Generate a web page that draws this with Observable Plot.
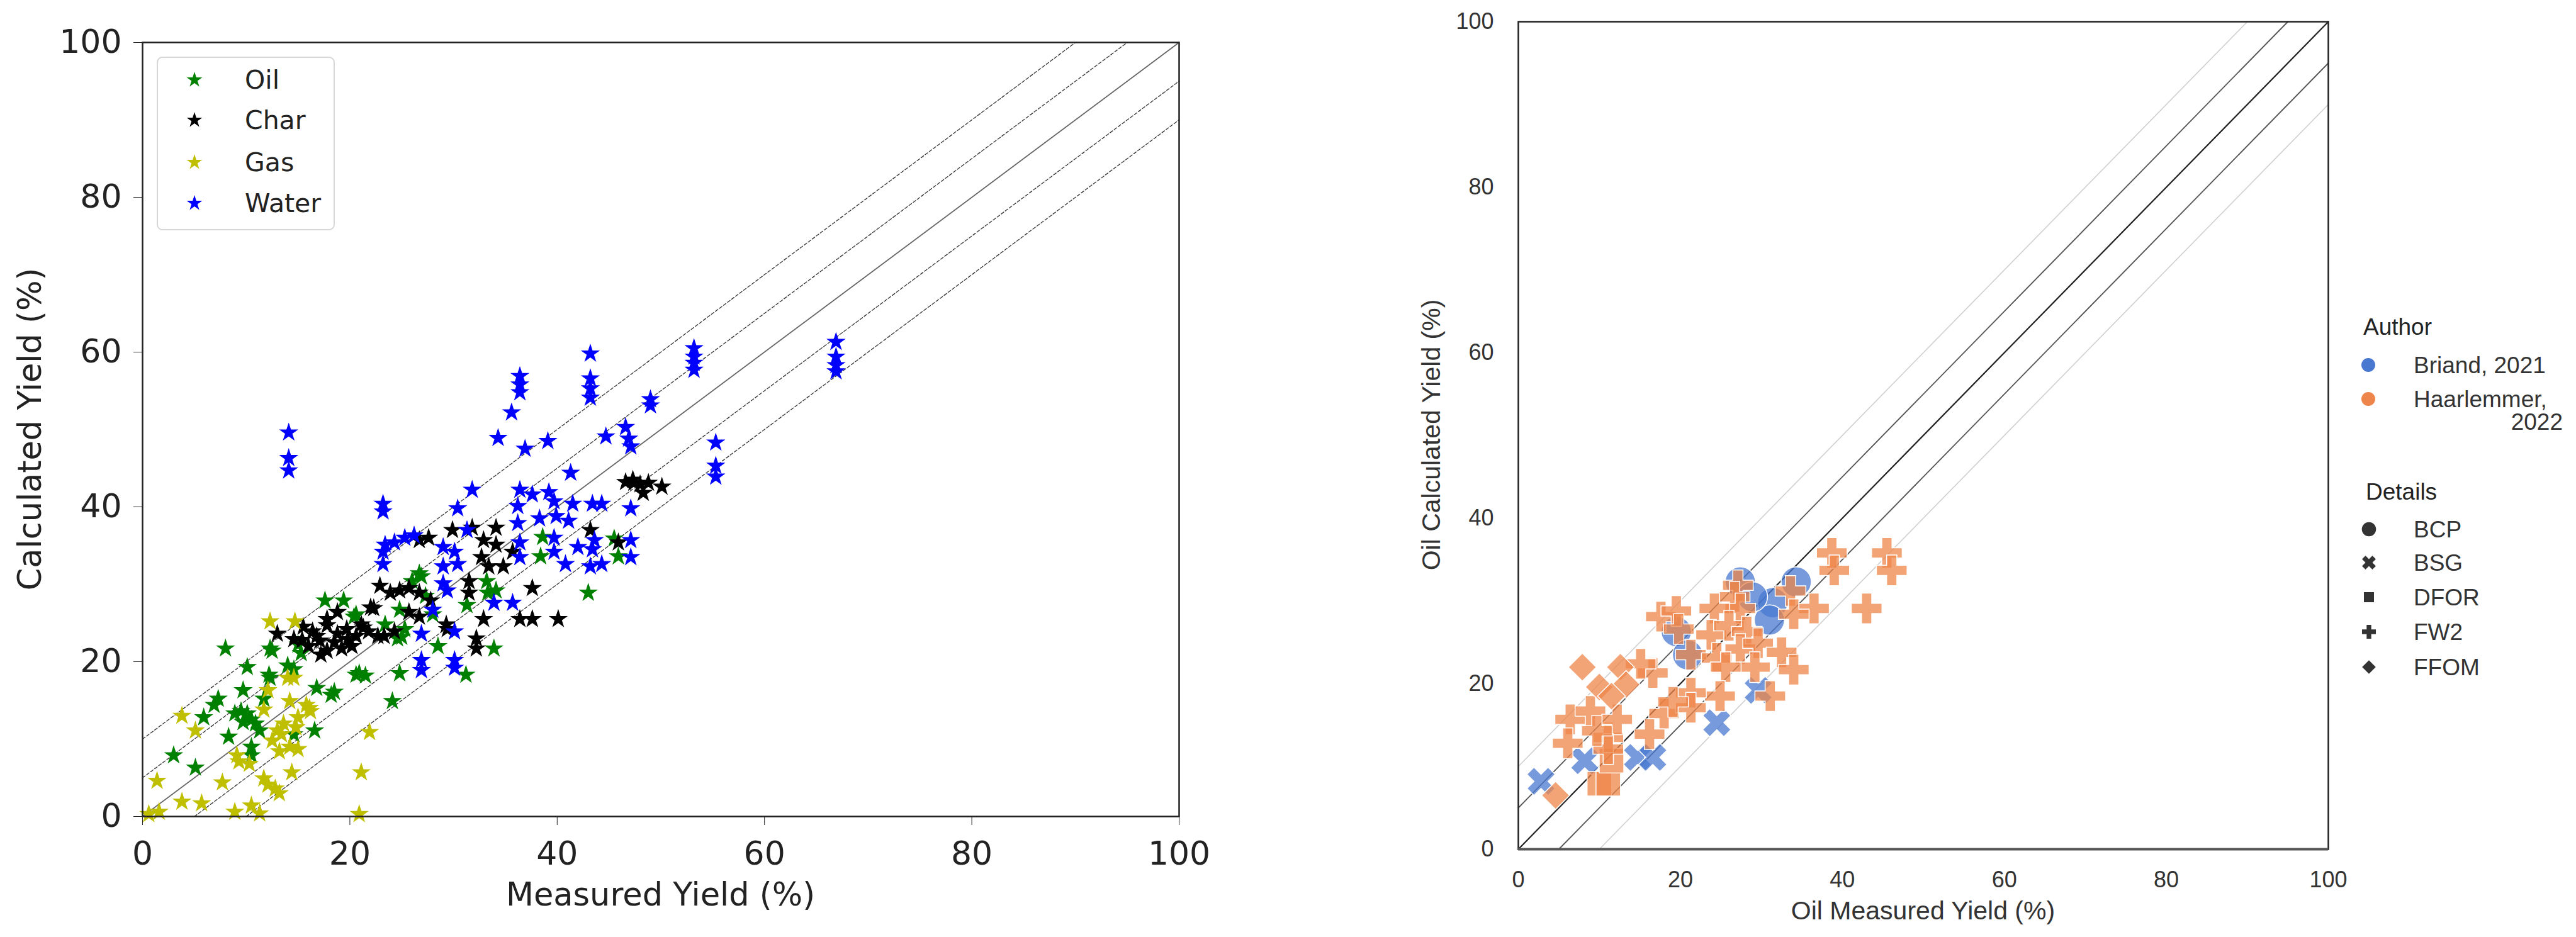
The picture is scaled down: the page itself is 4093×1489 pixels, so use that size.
<!DOCTYPE html>
<html><head><meta charset="utf-8">
<script src="https://cdn.jsdelivr.net/npm/d3@7"></script>
<script src="https://cdn.jsdelivr.net/npm/@observablehq/plot@0.6"></script>
<style>
body{margin:0;background:#fff;}
#page{position:relative;width:4093px;height:1489px;overflow:hidden;background:#fff;}
.abs{position:absolute;white-space:nowrap;line-height:1;}
</style></head><body><div id="page"></div>
<script>
// ---------- data ----------
const axisTicks = [0, 20, 40, 60, 80, 100];
const leftOffsets = [-10, -5, 0, 5, 10];
const rightOffsets = [-10, -5, 0, 5, 10];

const leftSeries = ["Oil", "Char", "Gas", "Water"];
const leftColors = ["#008000", "#000000", "#bfbf00", "#0000ff"];

const oil = [[17.6,27.9],[19.4,27.9],[20.4,25.8],[8.0,21.7],[12.3,21.7],[15.0,22.2],[10.1,19.3],[14.0,19.5],[14.6,19.0],[12.3,17.9],[20.9,18.5],[21.5,18.2],[16.8,16.6],[18.2,15.7],[9.7,16.3],[7.3,15.2],[6.9,14.4],[5.9,12.8],[9.5,13.6],[10.1,13.3],[10.5,12.5],[9.7,12.2],[10.9,12.0],[11.7,15.2],[11.3,11.1],[8.3,10.3],[10.5,9.0],[10.5,7.9],[14.6,10.6],[16.6,11.1],[3.0,7.9],[5.1,6.3],[24.1,14.9],[8.9,13.3],[24.8,18.5],[25.0,23.2],[33.9,21.7],[31.2,18.3],[33.3,28.9],[27.3,28.5],[26.7,31.4],[38.6,36.1],[38.4,33.6],[43.0,28.9],[45.9,33.6],[45.5,35.9],[26.9,31.0],[26.0,30.4],[33.2,30.4],[34.1,29.2],[20.6,26.1],[24.8,26.7],[28.0,26.1],[31.3,27.3],[23.4,24.8],[25.3,24.2],[24.6,23.0],[28.5,22.0],[12.5,21.4],[15.3,21.1],[12.2,18.3],[20.6,18.3],[18.5,16.1]];

const charData = [[46.6,43.2],[47.3,43.5],[48.0,42.9],[31.8,37.3],[29.9,37.0],[34.1,37.3],[32.9,35.7],[34.1,35.1],[27.6,36.0],[26.7,35.7],[32.7,33.5],[33.4,32.3],[34.8,32.3],[43.2,37.0],[45.9,35.4],[35.7,34.2],[22.9,29.8],[23.9,28.9],[24.8,29.2],[25.7,29.5],[26.7,28.9],[27.8,27.9],[31.5,30.4],[31.5,28.9],[37.6,29.5],[32.9,25.5],[36.4,25.5],[37.6,25.5],[40.1,25.5],[32.2,23.0],[32.2,21.7],[29.4,24.2],[25.7,26.4],[26.7,25.8],[22.0,27.0],[21.1,24.8],[18.8,26.4],[17.8,25.5],[16.4,23.9],[17.1,22.7],[18.8,23.6],[19.7,24.2],[20.6,23.3],[21.8,23.9],[22.7,23.3],[15.5,24.5],[16.0,22.0],[17.8,21.4],[19.2,21.7],[13.0,23.6],[14.6,22.9],[24.3,23.9],[47.4,43.1],[48.8,43.1],[50.1,42.6],[48.3,41.8],[22.3,26.9],[17.8,24.7],[23.3,23.3],[20.2,22.0],[17.2,20.9],[15.4,22.8],[21.3,24.4],[18.5,22.5],[19.8,22.9],[16.8,23.3],[29.3,24.8]];

const gas = [[12.3,25.2],[14.7,25.2],[14.0,17.9],[14.6,17.9],[12.1,16.3],[14.2,14.9],[15.8,14.4],[16.2,13.6],[15.0,12.8],[11.7,13.8],[3.8,13.0],[5.1,11.1],[13.0,11.1],[13.4,10.6],[14.2,9.0],[13.2,8.4],[15.0,8.7],[9.1,7.9],[9.3,7.1],[10.3,6.8],[21.9,10.9],[21.1,5.7],[1.4,4.6],[7.7,4.4],[11.7,4.9],[12.1,4.1],[12.8,3.6],[13.2,3.0],[14.4,5.7],[3.8,1.9],[5.7,1.7],[10.5,1.4],[8.9,0.6],[0.6,0.3],[1.6,0.6],[20.9,0.3],[11.3,0.4],[16.1,14.0],[13.6,12.0],[14.8,11.5],[12.5,9.8]];

const water = [[43.2,59.8],[36.4,56.9],[36.4,55.8],[36.4,54.8],[43.2,56.6],[43.2,55.3],[43.2,54.1],[35.6,52.2],[34.3,48.9],[36.9,47.5],[39.1,48.5],[44.7,49.1],[46.6,50.3],[46.9,48.8],[47.1,47.8],[14.1,49.6],[14.1,46.3],[14.1,44.7],[41.3,44.4],[31.8,42.2],[23.2,40.4],[23.2,39.4],[36.4,42.2],[37.6,41.6],[39.2,41.9],[36.2,40.1],[39.7,40.7],[41.5,40.4],[43.4,40.4],[44.3,40.4],[47.1,39.8],[30.4,39.8],[39.9,38.8],[41.1,38.2],[38.3,38.5],[36.2,37.9],[31.3,37.0],[23.4,35.1],[24.3,35.4],[25.3,36.0],[26.2,36.3],[23.2,34.2],[29.0,34.8],[30.1,34.2],[36.4,35.4],[36.4,33.5],[39.7,36.0],[39.7,34.2],[42.0,34.8],[43.6,35.7],[43.4,34.5],[47.1,35.7],[47.1,33.5],[40.8,32.6],[43.2,32.3],[44.3,32.6],[23.2,32.6],[29.0,32.3],[30.4,32.6],[29.0,30.1],[29.4,29.2],[33.9,27.6],[35.7,27.6],[26.9,23.6],[28.0,26.7],[26.9,20.2],[26.9,18.9],[30.1,20.2],[30.1,19.2],[30.1,23.9],[53.2,60.5],[53.2,59.4],[53.2,58.6],[53.2,57.7],[49.0,53.9],[49.0,53.1],[66.9,61.3],[66.9,59.4],[66.9,58.3],[66.9,57.5],[55.3,48.3],[55.3,45.3],[55.3,43.9]];

const authors = ["Briand, 2021", "Haarlemmer, 2022"];
const authorColors = ["#4878d0", "#ee854a"];
const details = ["BCP", "BSG", "DFOR", "FW2", "FFOM"];

const briandBCP = [[34.3,32.3],[31.4,29.8],[31.0,27.7],[27.4,32.3],[19.5,26.3],[20.9,23.5],[28.9,30.5]];
const briandBSG = [[2.8,8.2],[8.2,10.7],[14.7,11.1],[16.6,11.1],[24.5,15.3],[29.6,19.2]];
const haarDFOR = [[10.0,7.9],[11.1,7.9],[11.5,10.7]];
const haarFW2 = [[38.7,35.8],[45.5,35.8],[39.0,33.7],[46.1,33.7],[43.0,29.1],[36.5,29.1],[33.6,31.2],[34.0,28.4],[27.1,31.9],[26.7,30.5],[27.4,29.1],[24.2,29.1],[17.6,28.1],[19.5,28.8],[19.8,26.6],[23.8,25.9],[26.0,27.0],[28.2,26.3],[21.3,23.5],[24.5,23.1],[27.4,24.2],[29.6,24.9],[32.5,23.8],[29.2,22.0],[34.0,21.7],[25.6,22.0],[31.1,18.5],[24.9,18.5],[21.3,18.9],[16.6,21.3],[15.1,22.4],[18.0,16.4],[16.2,13.9],[11.1,13.5],[6.4,15.7],[6.1,12.8],[8.9,16.7],[12.2,15.7],[11.1,12.1],[9.7,14.3],[21.3,17.1],[19.1,17.8]];
const haarFFOM = [[7.9,22.0],[10.0,19.6],[12.6,22.0],[13.3,19.9],[11.5,18.5],[4.6,6.5]];

// ---------- helpers ----------
const page = document.getElementById("page");
function diag(offsets) {
  return offsets.flatMap(o => [
    {o, x: Math.max(0, -o), y: Math.max(0, o)},
    {o, x: Math.min(100, 100 - o), y: Math.min(100, 100 + o)}
  ]);
}
const symbolX = {
  draw(ctx, size) {
    const r = Math.sqrt(size / 5) / 2;
    const pts = [[-3*r,-r],[-r,-r],[-r,-3*r],[r,-3*r],[r,-r],[3*r,-r],[3*r,r],[r,r],[r,3*r],[-r,3*r],[-r,r],[-3*r,r]];
    const c = Math.SQRT1_2;
    pts.forEach(([x, y], i) => {
      const X = (x - y) * c, Y = (x + y) * c;
      i ? ctx.lineTo(X, Y) : ctx.moveTo(X, Y);
    });
    ctx.closePath();
  }
};
function addText(txt, left, top, style) {
  const d = document.createElement("div");
  d.className = "abs";
  d.textContent = txt;
  d.style.left = left + "px";
  d.style.top = top + "px";
  Object.assign(d.style, style);
  page.appendChild(d);
  return d;
}
function addSymbol(sym, size, cx, cy, fill, box) {
  const path = d3.symbol(sym, size)();
  const s = document.createElementNS("http://www.w3.org/2000/svg", "svg");
  s.setAttribute("width", box); s.setAttribute("height", box);
  s.setAttribute("viewBox", `${-box/2} ${-box/2} ${box} ${box}`);
  s.style.position = "absolute";
  s.style.left = (cx - box/2) + "px";
  s.style.top = (cy - box/2) + "px";
  s.innerHTML = `<path d="${path}" fill="${fill}"></path>`;
  page.appendChild(s);
}
const P = d => d[0], Q = d => d[1];

// ---------- left chart ----------
const ld = diag(leftOffsets);
const leftSets = [oil, charData, gas, water];
const left = Plot.plot({
  width: 1960, height: 1489,
  marginLeft: 226, marginRight: 87, marginTop: 67, marginBottom: 192,
  x: {domain: [0, 100], ticks: axisTicks, tickSize: 14, tickPadding: 26, label: null},
  y: {domain: [0, 100], ticks: axisTicks, tickSize: 14, tickPadding: 19, label: null},
  style: {fontFamily: "DejaVu Sans", fontSize: "52px", color: "#222", background: "transparent", overflow: "visible"},
  marks: [
    Plot.line(ld.filter(d => d.o !== 0), {x: "x", y: "y", z: "o", stroke: "#333", strokeWidth: 1.3, strokeDasharray: "5,3"}),
    Plot.line(ld.filter(d => d.o === 0), {x: "x", y: "y", stroke: "#666", strokeWidth: 1.8}),
    ...leftSets.map((set, i) => Plot.dot(set, {x: P, y: Q, symbol: "star", r: 8.4, fill: leftColors[i], stroke: leftColors[i], strokeWidth: 1.2})),
    Plot.frame({stroke: "#222", strokeWidth: 2.5})
  ]
});
left.style.position = "absolute"; left.style.left = "0px"; left.style.top = "0px";
page.appendChild(left);

// left axis labels
addText("Measured Yield (%)", 226, 1396, {width: "1647px", textAlign: "center", fontFamily: "DejaVu Sans", fontSize: "51px", color: "#222"});
addText("Calculated Yield (%)", 47, 682, {fontFamily: "DejaVu Sans", fontSize: "51px", color: "#222", transform: "translate(-50%,-50%) rotate(-90deg)"});

// left legend
const lbox = document.createElement("div");
Object.assign(lbox.style, {position: "absolute", left: "249px", top: "90px", width: "283px", height: "276px",
  border: "2px solid #d6d6d6", borderRadius: "9px", boxSizing: "border-box", background: "rgba(255,255,255,0.8)"});
page.appendChild(lbox);
const legRows = [127, 191, 258, 323];
leftSeries.forEach((name, i) => {
  addSymbol(d3.symbolStar, 190, 309, legRows[i], leftColors[i], 32);
  addText(name, 389, legRows[i] - 20, {fontFamily: "DejaVu Sans", fontSize: "41px", color: "#222"});
});

// ---------- right chart ----------
const rd = diag(rightOffsets);
const RL = 2200;
const dotStyle = {stroke: "white", strokeWidth: 1.5, fillOpacity: 0.75};
const right = Plot.plot({
  width: 1530, height: 1489,
  marginLeft: 212, marginRight: 31, marginTop: 34, marginBottom: 140,
  x: {domain: [0, 100], ticks: axisTicks, tickSize: 0, tickPadding: 35, label: null},
  y: {domain: [0, 100], ticks: axisTicks, tickSize: 0, tickPadding: 39, label: null},
  style: {fontFamily: "Liberation Sans, Arial, sans-serif", fontSize: "36px", color: "#333", background: "transparent", overflow: "visible"},
  marks: [
    Plot.line(rd.filter(d => Math.abs(d.o) === 10), {x: "x", y: "y", z: "o", stroke: "#cfcfcf", strokeWidth: 1.6}),
    Plot.line(rd.filter(d => Math.abs(d.o) === 5), {x: "x", y: "y", z: "o", stroke: "#555", strokeWidth: 1.8}),
    Plot.line(rd.filter(d => d.o === 0), {x: "x", y: "y", stroke: "#222", strokeWidth: 2.2}),
    Plot.dot(briandBCP, {x: P, y: Q, symbol: "circle", r: 24, fill: authorColors[0], ...dotStyle}),
    Plot.dot(briandBSG, {x: P, y: Q, symbol: symbolX, r: 20, fill: authorColors[0], ...dotStyle}),
    Plot.dot(haarDFOR, {x: P, y: Q, symbol: "square", r: 22, fill: authorColors[1], ...dotStyle}),
    Plot.dot(haarFW2, {x: P, y: Q, symbol: "cross", r: 20.5, fill: authorColors[1], ...dotStyle}),
    Plot.dot(haarFFOM, {x: P, y: Q, symbol: "diamond2", r: 20, fill: authorColors[1], ...dotStyle}),
    Plot.frame({stroke: "#222", strokeWidth: 2.5}),
    Plot.ruleY([0], {stroke: "#555", strokeWidth: 4})
  ]
});
right.style.position = "absolute"; right.style.left = RL + "px"; right.style.top = "0px";
page.appendChild(right);

// right axis labels
addText("Oil Measured Yield (%)", 2412, 1427, {width: "1287px", textAlign: "center", fontFamily: "Liberation Sans, Arial, sans-serif", fontSize: "41px", color: "#333"});
addText("Oil Calculated Yield (%)", 2274, 691, {fontFamily: "Liberation Sans, Arial, sans-serif", fontSize: "41px", color: "#333", transform: "translate(-50%,-50%) rotate(-90deg)"});

// right legend
const rf = {fontFamily: "Liberation Sans, Arial, sans-serif", fontSize: "37px", color: "#333"};
addText("Author", 3755, 519 - 18, {...rf, color: "#222"});
addSymbol(d3.symbolCircle, 380, 3763, 580, authorColors[0], 30);
addText(authors[0], 3835, 580 - 18, rf);
addSymbol(d3.symbolCircle, 380, 3763, 634, authorColors[1], 30);
const [hName, hYear] = authors[1].split(" ");
addText(hName, 3835, 634 - 18, rf);
addText(hYear, 3835, 670 - 18, {...rf, width: "237px", textAlign: "right"});
addText("Details", 3759, 781 - 18, {...rf, color: "#222"});
const detailSyms = [[d3.symbolCircle, 400], [symbolX, 300], [d3.symbolSquare, 256], [d3.symbolCross, 270], [d3.symbolDiamond2, 300]];
const detailRows = [841, 894, 949, 1004, 1060];
details.forEach((name, i) => {
  addSymbol(detailSyms[i][0], detailSyms[i][1], 3764, detailRows[i], "#333", 34);
  addText(name, 3835, detailRows[i] - 18, rf);
});
</script>
</body></html>
